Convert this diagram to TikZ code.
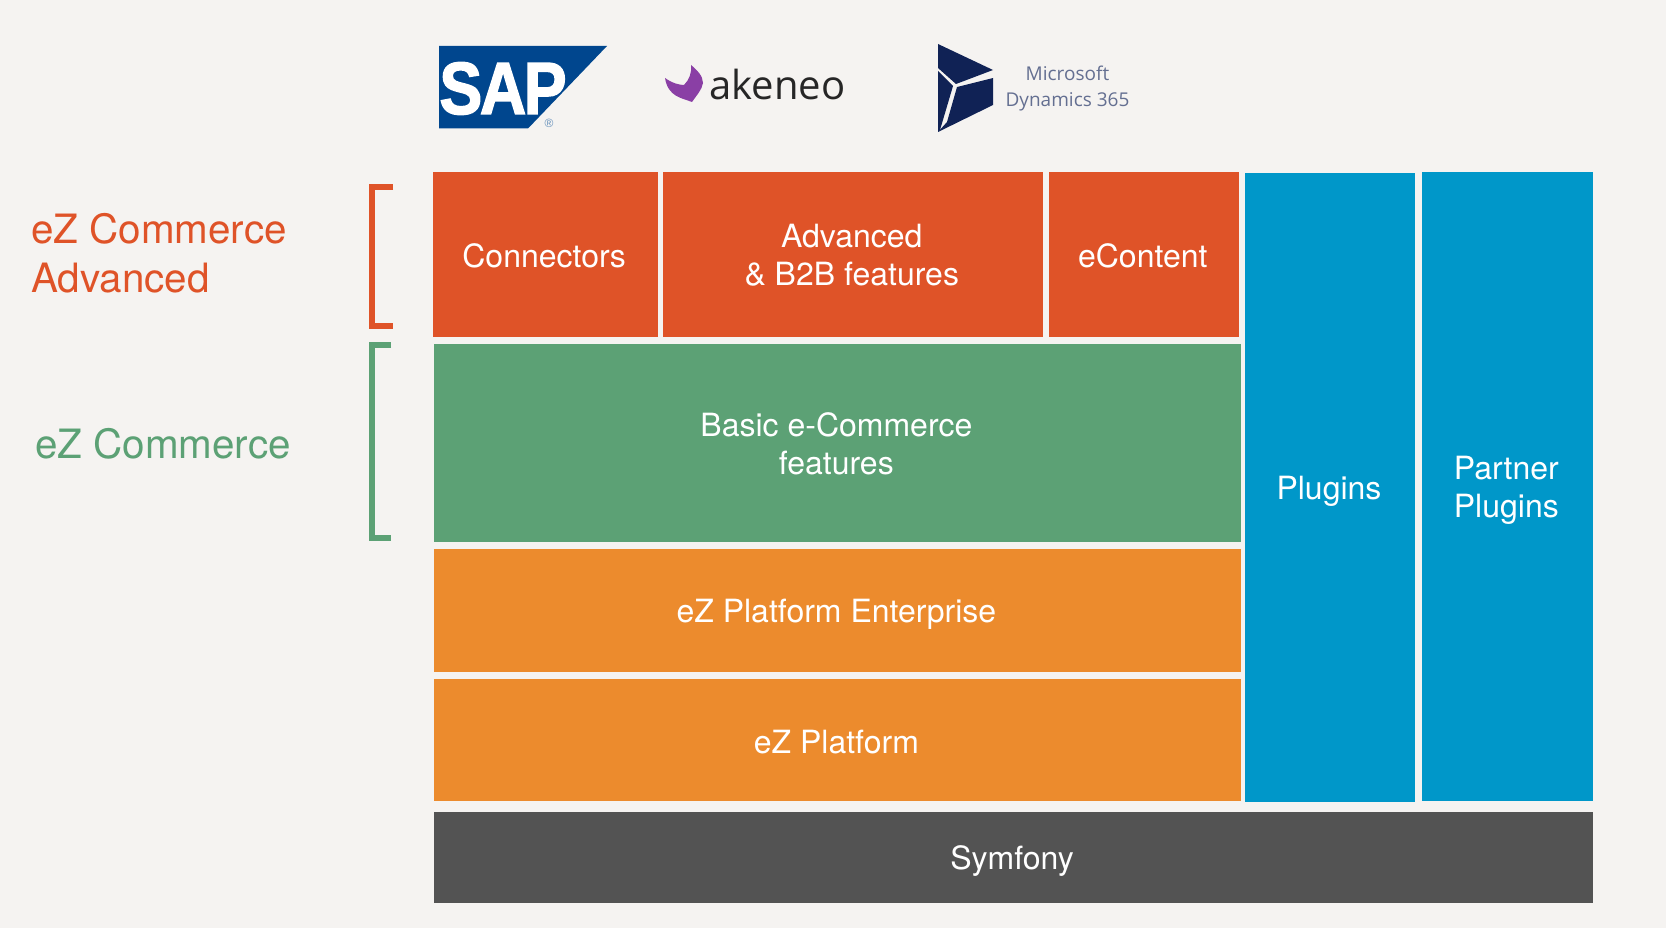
\documentclass[tikz,border=0pt]{standalone}
\usepackage{fontspec}
\usepackage{graphicx}
\setmainfont{TeX Gyre Heros}
\newfontfamily\logofont{Open Sans}
\newfontfamily\sapfont{Liberation Sans}
\definecolor{bgc}{HTML}{F5F3F1}
\definecolor{redc}{HTML}{DF5328}
\definecolor{greenc}{HTML}{5CA175}
\definecolor{orangec}{HTML}{EC8B2D}
\definecolor{bluec}{HTML}{0097C9}
\definecolor{darkc}{HTML}{535353}
\definecolor{sapc}{HTML}{00468E}
\definecolor{navyc}{HTML}{102255}
\definecolor{purplec}{HTML}{8A3FA5}
\tikzset{
 x=1pt,y=-1pt,
 blockbox/.style={inner sep=0pt,text=white,align=center,font=\fontsize{32}{38}\selectfont,anchor=center},
 sidelabel/.style={inner sep=0pt,anchor=west,align=left,font=\fontsize{40.4}{49}\selectfont},
 bracketline/.style={line width=6pt,line cap=butt,line join=miter}
}
\newcommand{\blockat}[8]{% name, x0,y0,x1,y1, colour, text shift, text
 \path[fill=#6] (#2,#3) rectangle (#4,#5);
 \node[blockbox] (#1) at ({(#2+#4)/2-1},{(#3+#5)/2+#7}) {#8};
}
\begin{document}
\begin{tikzpicture}
\path[use as bounding box,fill=bgc] (0,0) rectangle (1666,928);
\blockat{conn}{432.5}{172.5}{657.7}{337}{redc}{1}{Connectors}
\blockat{adv}{663}{172.5}{1042.5}{337}{redc}{0.5}{Advanced\\\& B2B features}
\blockat{econt}{1048.5}{172.5}{1239}{337}{redc}{1}{eContent}
\blockat{basic}{433.7}{343.5}{1241}{542}{greenc}{1.5}{Basic e-Commerce\\features}
\blockat{ent}{433.7}{548.5}{1241}{671.5}{orangec}{4}{eZ Platform Enterprise}
\blockat{plat}{433.7}{678.5}{1241}{800.5}{orangec}{3}{eZ Platform}
\blockat{plug}{1245}{173.5}{1415}{802}{bluec}{4}{Plugins}
\blockat{partner}{1422.2}{172.5}{1592.5}{800.5}{bluec}{4}{Partner\\Plugins}
\blockat{sym}{433.7}{812}{1592.5}{902.5}{darkc}{4}{Symfony}
% side labels
\node[sidelabel,text=redc] (lbla) at (31,253.5) {eZ Commerce\\Advanced};
\node[sidelabel,text=greenc] (lblb) at (35,444) {eZ Commerce};
\draw[bracketline,redc] (393,187) -- (372,187) -- (372,326) -- (393,326);
\draw[bracketline,greenc] (391,345) -- (372,345) -- (372,538) -- (391,538);
% SAP logo
\fill[sapc] (439,46) -- (607,46) -- (528,128.5) -- (439,128.5) -- cycle;
\node[inner sep=0pt,text=white,font=\sapfont\bfseries\fontsize{74}{74}\selectfont] (sap) at (503,88.5) {\scalebox{.87}[1]{\addfontfeature{FakeBold=2,LetterSpace=-4}SAP}};
\node[inner sep=0pt,text=sapc!60,font=\sapfont\fontsize{12}{12}\selectfont] (sapr) at (549,123) {®};
% akeneo logo
\fill[purplec] (665,78) .. controls (672,83) and (679,85) .. (684,85) .. controls (689,80) and (692,73) .. (691,65) .. controls (697,70) and (703,76) .. (703,83) .. controls (702,90) and (696,96) .. (692,102) .. controls (682,98) and (668,97) .. cycle;
\node[inner sep=0pt,anchor=base west,text=black!85,font=\logofont\fontsize{40}{40}\selectfont] (ake) at (709,100) {akeneo};
% Dynamics logo
\fill[navyc] (938,44) -- (993,70) -- (956,84) -- (938,68) -- cycle;
\fill[navyc] (938,71) -- (953,86) -- (940,130) -- (938,132) -- cycle;
\fill[navyc] (957,87) -- (993,78) -- (993,105) -- (938,132) -- (947,122) -- cycle;
\node[inner sep=0pt,text=navyc!65,align=center,font=\logofont\fontsize{19}{25.5}\selectfont] (dyn) at (1067.5,88.5) {Microsoft\\Dynamics 365};
\end{tikzpicture}
\end{document}
